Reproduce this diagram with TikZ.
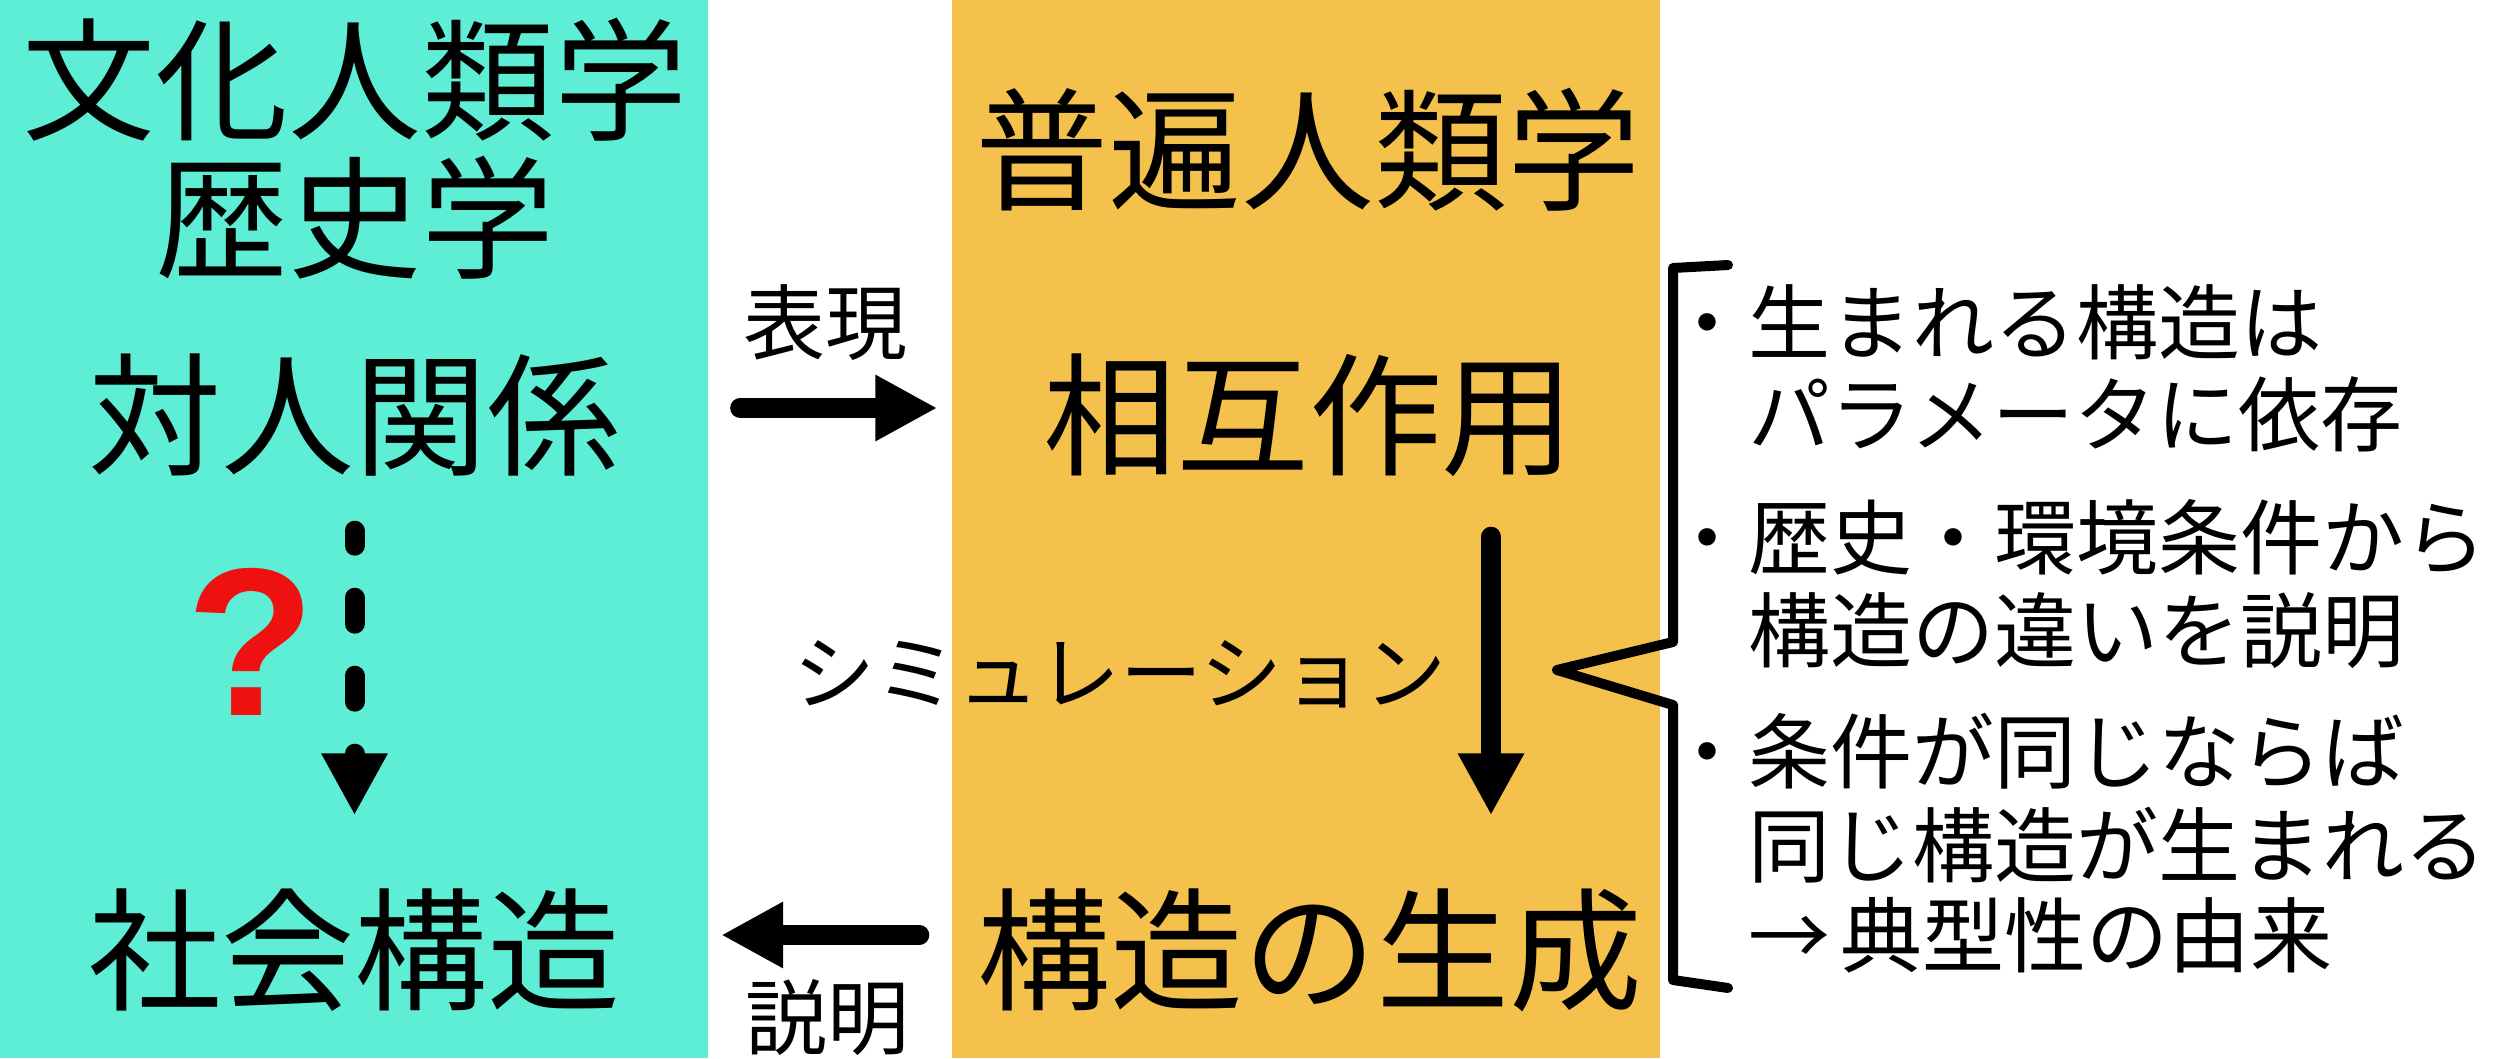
\documentclass[tikz,border=0pt]{standalone}
\usepackage{fontspec}
\usepackage{tikz}
\usetikzlibrary{arrows.meta, calc}
\newfontfamily\jpfont{Noto Sans CJK JP}
\newfontfamily\markfont{Liberation Sans}
\definecolor{cultureTeal}{HTML}{5EEED6}
\definecolor{universalOrange}{HTML}{F4C24C}
\definecolor{questionRed}{HTML}{EF1010}
\tikzset{
	bigLabel/.style={inner sep=0pt, font=\jpfont\fontsize{37.84pt}{37.84pt}\selectfont, 
	text height=1.17cm, text depth=0.16cm},
	smallLabel/.style={inner sep=0pt, font=\jpfont\fontsize{23.33pt}{23.33pt}\selectfont, 
	text height=0.72cm, text depth=0.10cm},
	bigArrow/.style={line width=0.2cm, line cap=round, -{Triangle[length=0.62cm, width=0.62cm]}}
}

\begin{document}
\begin{tikzpicture}
			
			\useasboundingbox (0,0) rectangle (24.93,10.58);
			
			%Panels
			\fill[cultureTeal] (0,0) rectangle (7.08,10.58);
			\fill[universalOrange] (9.52,0) rectangle (16.60,10.58);
			
			%Cultural anthropology side
			\node (cultureTitle) at (3.55,9.78) [bigLabel]{文化人類学};
			\node (historyTitle) at (3.55,8.40) [bigLabel]{歴史学};
			\node (relations) at (3.545,6.43) [bigLabel]{対人関係};
			\node (socialStructure) at (3.545,1.08) [bigLabel]{社会構造};
			\node (questionMark) at (2.51,3.43) [anchor=base, inner sep=0pt, text=questionRed, 
			font=\markfont\bfseries\fontsize{60pt}{60pt}\selectfont]{?};
			
			%Universal anthropology side
			\node (universalTitle) at (13.08,9.08) [bigLabel]{普遍人類学};
			\node (interaction) at (13.09,6.43) [bigLabel]{相互作用};
			\node (generation) at (13.10,1.08) [bigLabel]{構造の生成};
			
			%Arrow labels
			\node (expressLabel) at (8.25,7.36) [smallLabel]{表現};
			\node (explainLabel) at (8.27,0.41) [smallLabel]{説明};
			\node (simLabel) at (11.20,3.86) [smallLabel]{シミュレーション};
			
			%Remarks
			\node (bornLine) at (16.66,7.36) [smallLabel, anchor=west]{・生まれる構造は};
			\node (paramLine) at (17.48,6.44) [smallLabel, anchor=west]{パラメータに依存};
			\node (historyLine) at (16.66,5.21) [smallLabel, anchor=west]{・歴史・環境条件から};
			\node (differLine) at (17.48,4.28) [smallLabel, anchor=west]{構造の違いを説明};
			\node (conditionLine) at (16.66,3.07) [smallLabel, anchor=west]{・条件が同じならば};
			\node (sameLine) at (17.48,2.13) [smallLabel, anchor=west]{同じ構造が生まれる};
			\node (typicalLine) at (17.48,1.23) [smallLabel, anchor=west]{→\kern0.1cm 典型性の由来};
			
			%Links
			\draw[bigArrow, shorten <=1.19cm, shorten >=1.05cm] ([yshift=0.07cm]relations.east) -- 
			([yshift=0.07cm]interaction.west);
			\draw[bigArrow, shorten <=0.575cm, shorten >=1.00cm] ([yshift=0.15cm]generation.west) -- 
			([yshift=0.15cm]socialStructure.east);
			\draw[bigArrow, shorten <=0.545cm, shorten >=0.675cm] ([xshift=1.82cm]interaction.south) -- 
			([xshift=1.82cm]interaction.south |- generation.north);
			\draw[bigArrow, dash pattern=on 0.26cm off 0.52cm, dash phase=0.11cm, shorten <=0.485cm, 
			shorten >=0.675cm] (relations.south) -- (socialStructure.north);
			
			%Bracket
			\draw[line width=0.1cm, line cap=round, line join=round] (17.28,7.93) -- (16.73,7.90) -- 
			(16.73,4.16) -- (15.57,3.88) -- (16.73,3.53) -- (16.73,0.78) -- (17.28,0.70);
			
\end{tikzpicture}
\end{document}
